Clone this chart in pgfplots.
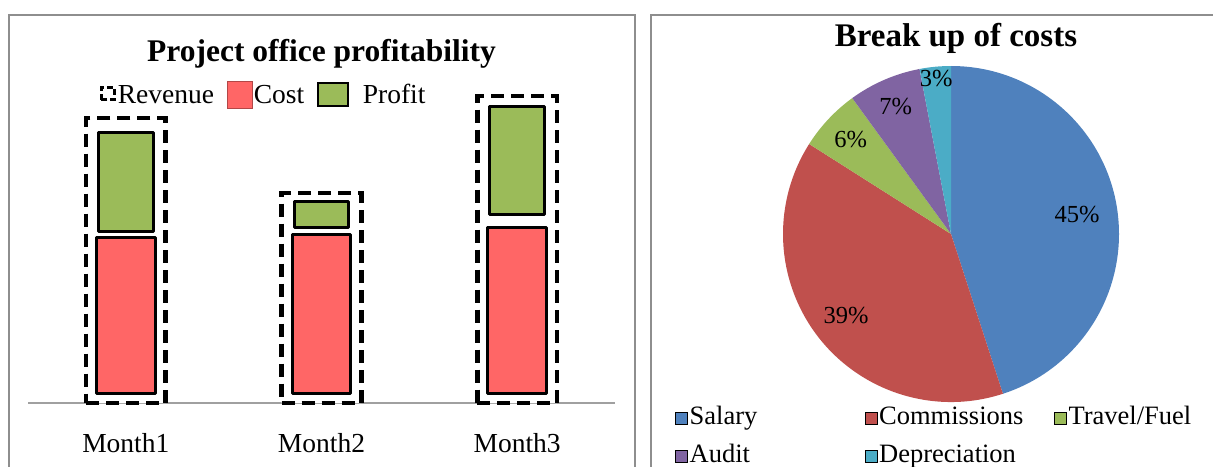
\documentclass[border=0pt]{standalone}
\usepackage{pgfplots}
\pgfplotsset{compat=1.18}
\usepackage{pgfplotstable}
\usepackage{fontspec}
\setmainfont{Liberation Serif}
\definecolor{costred}{HTML}{FF6666}
\definecolor{profitgreen}{HTML}{9BBB59}
\definecolor{salary}{HTML}{4F81BD}
\definecolor{commis}{HTML}{C0504D}
\definecolor{travel}{HTML}{9BBB59}
\definecolor{audit}{HTML}{8064A2}
\definecolor{deprec}{HTML}{4BACC6}
\definecolor{framegray}{HTML}{8E8E8E}
\definecolor{axisgray}{HTML}{A0A0A0}

% Revenue (outline bars)
\pgfplotstableread{
x revenue
0 285
1 210
2 307
}\revenuedata

% Cost and profit, stacked on a small offset (base) with a small gap
\pgfplotstableread{
x base cost gap profit
0 9.5 156 6 99
1 9.5 159 7 26
2 9.5 166 13 108
}\costprofit

% Break up of costs (percent) and label radius
\pgfplotstableread{
name value lr
Salary 45 0.76
Commissions 39 0.79
Travel/Fuel 6 0.82
Audit 7 0.83
Depreciation 3 0.93
}\piedata

\newcommand\piecolor[1]{\ifcase#1 salary\or commis\or travel\or audit\or deprec\fi}
\newcommand\pctfont{\fontsize{24.5}{28}\selectfont}

\begin{document}
\begin{tikzpicture}
% panel frames
\draw[framegray, line width=2pt] (9pt,-20pt) -- (9pt,451pt) -- (635pt,451pt) -- (635pt,-20pt);
\draw[framegray, line width=2pt] (651pt,-20pt) -- (651pt,451pt) -- (1240pt,451pt);

% ---------- Left: revenue outline bars + axis ----------
\begin{axis}[
  at={(28pt,63pt)}, anchor=south west,
  scale only axis, width=587pt, height=330pt,
  xmin=-0.5, xmax=2.5, ymin=0, ymax=330,
  axis x line=bottom, axis y line=none,
  x axis line style={-, draw=axisgray, line width=1.5pt},
  xtick={0,1,2}, xticklabels={Month1,Month2,Month3},
  ytick=\empty,
  major tick length=0pt,
  xticklabel style={font=\fontsize{27.5}{32}\selectfont, anchor=base, yshift=-49pt},
  title={\textbf{Project office profitability}},
  title style={font=\fontsize{31.5}{36}\selectfont, at={(0.5,1)}, anchor=base, yshift=5pt},
  legend columns=3,
  legend style={draw=none, fill=none, at={(0.117,0.935)}, anchor=west,
    font=\fontsize{27.5}{32}\selectfont, nodes={inner sep=1.5pt},
    /tikz/every even column/.append style={column sep=11pt}},
  clip=false,
]
\addplot[ybar, bar width=0.407, bar shift=0pt, fill=white, draw=black,
  line width=4.5pt, dash pattern=on 13pt off 7pt, forget plot]
  table[x=x, y=revenue]{\revenuedata};
\addlegendimage{legend image code/.code={\draw[line width=3pt, dash pattern=on 6pt off 3pt] (1.5pt,-5pt) rectangle (15pt,7pt);}}
\addlegendentry{Revenue}
\addlegendimage{legend image code/.code={\draw[fill=costred, draw=costred!70!black, line width=0.8pt] (0pt,-13pt) rectangle (25pt,14pt);}}
\addlegendentry{Cost}
\addlegendimage{legend image code/.code={\draw[fill=profitgreen, draw=black, line width=2.5pt] (0pt,-11pt) rectangle (30pt,12pt);}}
\addlegendentry{\hspace{12pt}Profit}
\end{axis}

% ---------- Left: cost + profit stacked bars ----------
\begin{axis}[
  at={(28pt,63pt)}, anchor=south west,
  scale only axis, width=587pt, height=330pt,
  xmin=-0.5, xmax=2.5, ymin=0, ymax=330,
  hide axis, ybar stacked, bar width=0.30, clip=false,
]
\addplot[draw=none, fill=none] table[x=x, y=base]{\costprofit};
\addplot[fill=costred, draw=black, line width=3pt, line join=round] table[x=x, y=cost]{\costprofit};
\addplot[draw=none, fill=none] table[x=x, y=gap]{\costprofit};
\addplot[fill=profitgreen, draw=black, line width=3pt, line join=round, bar width=0.28] table[x=x, y=profit]{\costprofit};
\end{axis}

% ---------- Right: pie ----------
\begin{axis}[
  at={(783pt,64pt)}, anchor=south west,
  scale only axis, width=336pt, height=336pt,
  xmin=-1, xmax=1, ymin=-1, ymax=1, enlargelimits=false,
  hide axis, clip=false,
  title={\textbf{Break up of costs}},
  title style={font=\fontsize{33}{38}\selectfont, at={(0.5,1)}, anchor=base, yshift=13pt, xshift=5pt},
  legend image code/.code={\fill[#1] (0pt,-6pt) rectangle (12pt,6pt);},
  legend columns=3,
  legend style={draw=none, fill=none, at={(-0.33,0.0)}, anchor=north west,
    font=\fontsize{26.5}{30}\selectfont, row sep=10pt,
    nodes={inner sep=2pt, text height=18pt, text depth=6pt},
    /tikz/every even column/.append style={column sep=8pt}},
]
\xdef\cum{0}
\pgfplotsinvokeforeach{0,...,4}{
  \pgfplotstablegetelem{#1}{value}\of\piedata \let\v\pgfplotsretval
  \pgfplotstablegetelem{#1}{lr}\of\piedata \let\lr\pgfplotsretval
  \pgfmathsetmacro{\sa}{90-3.6*\cum}
  \pgfmathsetmacro{\ea}{90-3.6*(\cum+\v)}
  \pgfmathsetmacro{\ma}{(\sa+\ea)/2}
  \pgfmathparse{\cum+\v}\xdef\cum{\pgfmathresult}
  \edef\temp{\noexpand\fill[\piecolor{#1}] (axis cs:0,0) -- (axis cs:{cos(\sa)},{sin(\sa)}) arc[start angle=\sa, end angle=\ea, radius=168pt] -- cycle;
    \noexpand\node[font=\noexpand\pctfont] at (axis cs:{\lr*cos(\ma)},{\lr*sin(\ma)}) {\v\noexpand\%};}
  \temp
}
\addlegendimage{fill=salary}\addlegendentry{\makebox[165pt][l]{Salary}}
\addlegendimage{fill=commis}\addlegendentry{\makebox[165pt][l]{Commissions}}
\addlegendimage{fill=travel}\addlegendentry{\makebox[165pt][l]{Travel/Fuel}}
\addlegendimage{fill=audit}\addlegendentry{\makebox[165pt][l]{Audit}}
\addlegendimage{fill=deprec}\addlegendentry{\makebox[165pt][l]{Depreciation}}
\end{axis}

\pgfresetboundingbox
\useasboundingbox (0,0) rectangle (1213pt,466pt);
\end{tikzpicture}
\end{document}
